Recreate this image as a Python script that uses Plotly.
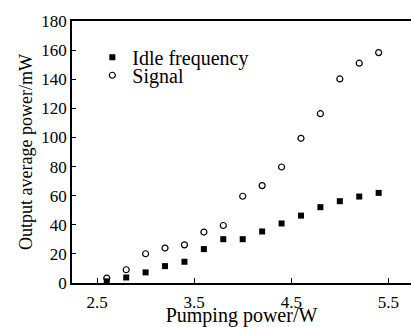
import plotly.graph_objects as go

pump_power = [2.6, 2.8, 3.0, 3.2, 3.4, 3.6, 3.8, 4.0, 4.2, 4.4, 4.6, 4.8, 5.0, 5.2, 5.4]
idle_power = [1.1, 3.8, 7.3, 11.6, 14.6, 23.3, 30.1, 30.1, 35.4, 40.9, 46.3, 52.1, 56.2, 59.4, 61.9]
signal_power = [3.4, 9.1, 20.1, 24.0, 26.2, 35.0, 39.5, 59.6, 66.9, 79.7, 99.4, 116.3, 140.2, 151.0, 158.3]
x_ticks = [2.5, 3.5, 4.5, 5.5]
y_ticks = [0, 20, 40, 60, 80, 100, 120, 140, 160, 180]

FONT = "Liberation Serif"

fig = go.Figure()
fig.add_trace(go.Scatter(
    x=pump_power, y=idle_power, mode="markers", name="Idle frequency", legend="legend",
    marker=dict(symbol="square", size=6, color="black", line=dict(width=0)),
))
fig.add_trace(go.Scatter(
    x=pump_power, y=signal_power, mode="markers", name="Signal", legend="legend2",
    marker=dict(symbol="circle-open", size=6, color="black", line=dict(width=1.2, color="black")),
))

leg_common = dict(
    xanchor="left", yanchor="middle",
    bgcolor="rgba(0,0,0,0)", borderwidth=0,
    font=dict(family=FONT, size=20, color="black"),
    itemwidth=30, tracegroupgap=0,
)

fig.update_layout(
    width=411, height=327,
    margin=dict(l=72, r=0, t=21, b=44),
    paper_bgcolor="white", plot_bgcolor="white",
    font=dict(family=FONT, size=17, color="black"),
    showlegend=True,
    legend=dict(x=0.06, y=0.862, **leg_common),
    legend2=dict(x=0.06, y=0.793, **leg_common),
    xaxis=dict(
        range=[2.242, 5.733], tickvals=x_ticks, ticktext=[str(v) for v in x_ticks],
        showgrid=False, zeroline=False,
        showline=True, linecolor="black", linewidth=1.5, mirror=True,
        ticks="inside", ticklen=5, tickwidth=1.2, tickcolor="black",
        ticklabelstandoff=3,
        title=dict(text="Pumping power/W", font=dict(family=FONT, size=20), standoff=1),
        tickfont=dict(family=FONT, size=17),
    ),
    yaxis=dict(
        range=[0, 180], tickvals=y_ticks,
        showgrid=False, zeroline=False,
        showline=True, linecolor="black", linewidth=1.5, mirror=False,
        ticks="inside", ticklen=4, tickwidth=1.2, tickcolor="black",
        title=dict(text="Output average power/mW", font=dict(family=FONT, size=18), standoff=4),
        tickfont=dict(family=FONT, size=17),
    ),
)

fig.write_html(
    "out.html",
    config={"displayModeBar": False},
    post_script=(
        "document.body.style.margin='0';document.body.style.padding='0';"
        "document.body.style.overflow='hidden';"
        "document.documentElement.style.overflow='hidden';"
    ),
)
